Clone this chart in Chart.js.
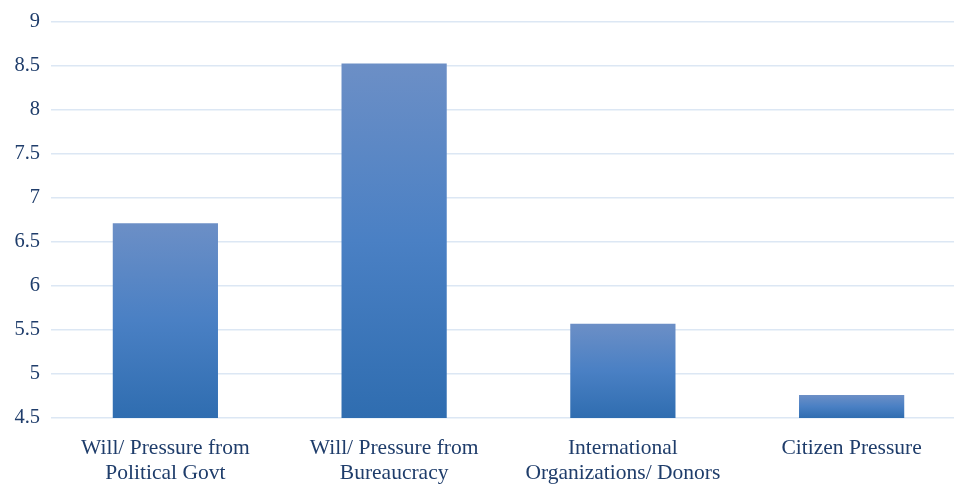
<!DOCTYPE html>
<html>
<head>
<meta charset="utf-8">
<script src="https://cdn.jsdelivr.net/npm/chart.js@4/dist/chart.umd.min.js"></script>
<style>
  html, body { margin: 0; padding: 0; background: #fff; overflow: hidden; }
  #wrap { width: 954px; height: 485px; overflow: hidden; }
</style>
</head>
<body>
<div id="wrap"><canvas id="barChart" width="968" height="485"></canvas></div>
<script>
// Bar Chart Data ---------------------------------------------------
const categories = [
    ['Will/ Pressure from', 'Political Govt'],
    ['Will/ Pressure from', 'Bureaucracy'],
    ['International', 'Organizations/ Donors'],
    'Citizen Pressure'
];
const scores = [6.71, 8.52, 5.57, 4.76];
const yMin = 4.5;
const yMax = 9;
const yStep = 0.5;

const textColor = '#1f3d6b';
const gridColor = '#dce7f4';
const serif = '"Liberation Serif", "Times New Roman", serif';

// vertical gradient per bar, lighter on top, darker at the base
function barGradient(ctx) {
    const chart = ctx.chart;
    if (!chart.chartArea || ctx.parsed === undefined) return '#4a7fc1';
    const y = chart.scales.y;
    const top = y.getPixelForValue(ctx.parsed.y);
    const bottom = y.getPixelForValue(yMin);
    const g = chart.ctx.createLinearGradient(0, top, 0, bottom);
    g.addColorStop(0, '#6c8fc6');
    g.addColorStop(0.5, '#4a80c4');
    g.addColorStop(1, '#2f6db0');
    return g;
}

const barCtx = document.getElementById('barChart').getContext('2d');
new Chart(barCtx, {
    type: 'bar',
    data: {
        labels: categories,
        datasets: [{
            data: scores,
            backgroundColor: barGradient,
            borderWidth: 0,
            categoryPercentage: 1,
            barPercentage: 0.46
        }]
    },
    options: {
        responsive: false,
        animation: false,
        layout: { padding: { top: 0, right: 2, bottom: 1, left: 0 } },
        plugins: {
            legend: { display: false },
            tooltip: { enabled: false }
        },
        scales: {
            x: {
                afterFit: (scale) => { scale.height = 66; },
                grid: { display: false },
                border: { display: false },
                ticks: {
                    color: textColor,
                    padding: 10,
                    maxRotation: 0,
                    autoSkip: false,
                    font: { family: serif, size: 21.5, lineHeight: 1.17 }
                }
            },
            y: {
                min: yMin,
                max: yMax,
                afterFit: (scale) => { scale.width = 51; },
                grid: { color: gridColor, lineWidth: 1.5, drawTicks: false },
                border: { display: false },
                ticks: {
                    stepSize: yStep,
                    color: textColor,
                    padding: 11,
                    callback: (v) => String(Number(v.toFixed(1))),
                    font: { family: serif, size: 20.5, lineHeight: 1 }
                }
            }
        }
    }
});
</script>
</body>
</html>
